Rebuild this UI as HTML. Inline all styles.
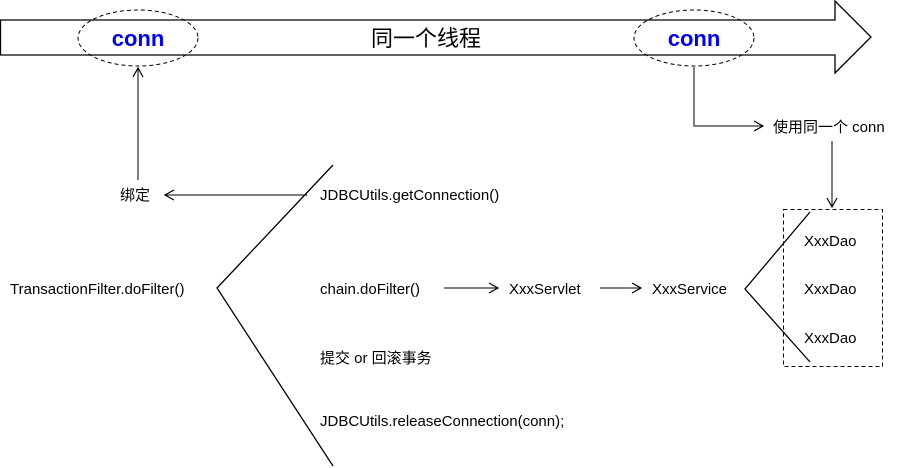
<!DOCTYPE html>
<html><head><meta charset="utf-8"><style>
html,body{margin:0;padding:0;background:#fff;}
svg{display:block}
text{font-family:"Liberation Sans","Noto Sans CJK SC",sans-serif;font-size:15px;fill:#000}
</style></head><body>
<svg width="904" height="468" viewBox="0 0 904 468" xmlns="http://www.w3.org/2000/svg">
<defs>
<marker id="a" markerWidth="12" markerHeight="12" refX="10" refY="6" orient="auto" markerUnits="userSpaceOnUse">
<path d="M1,1 L10,6 L1,11" fill="none" stroke="#000" stroke-width="1.2"/>
</marker>
</defs>
<!-- big arrow -->
<path d="M0.5,20 L835,20 L835,1 L871,37 L835,73 L835,55 L0.5,55 Z" fill="#fff" stroke="#000" stroke-width="1.3"/>
<ellipse cx="138" cy="38" rx="60" ry="28" fill="none" stroke="#000" stroke-dasharray="4,3"/>
<ellipse cx="694" cy="38" rx="60" ry="28" fill="none" stroke="#000" stroke-dasharray="4,3"/>
<text x="138" y="46" text-anchor="middle" style="font-size:22px;font-weight:bold;fill:#0000ff">conn</text>
<text x="694" y="46" text-anchor="middle" style="font-size:22px;font-weight:bold;fill:#0000ff">conn</text>
<text x="426" y="46" text-anchor="middle" style="font-size:22px">同一个线程</text>
<!-- left up arrow -->
<line x1="138" y1="180" x2="138" y2="68" stroke="#000" marker-end="url(#a)"/>
<text x="120" y="200">绑定</text>
<line x1="307" y1="195" x2="165" y2="195" stroke="#000" marker-end="url(#a)"/>
<!-- big bracket -->
<polyline points="333,165 217,288 333,466" fill="none" stroke="#000" stroke-width="1.3"/>
<text x="320" y="200">JDBCUtils.getConnection()</text>
<text x="10" y="294">TransactionFilter.doFilter()</text>
<text x="320" y="294">chain.doFilter()</text>
<line x1="444" y1="288" x2="498" y2="288" stroke="#000" marker-end="url(#a)"/>
<text x="509" y="294">XxxServlet</text>
<line x1="600" y1="288" x2="641" y2="288" stroke="#000" marker-end="url(#a)"/>
<text x="652" y="294">XxxService</text>
<text x="320" y="363">提交 or 回滚事务</text>
<text x="320" y="426">JDBCUtils.releaseConnection(conn);</text>
<!-- right connector -->
<polyline points="694,67 694,126 763,126" fill="none" stroke="#000" marker-end="url(#a)"/>
<text x="773" y="132">使用同一个 conn</text>
<line x1="832" y1="141" x2="832" y2="207" stroke="#000" marker-end="url(#a)"/>
<rect x="783.5" y="209.5" width="99" height="157" fill="none" stroke="#000" stroke-dasharray="4,3"/>
<polyline points="810,212 745,289 810,362" fill="none" stroke="#000" stroke-width="1.3"/>
<text x="804" y="246">XxxDao</text>
<text x="804" y="294">XxxDao</text>
<text x="804" y="343">XxxDao</text>
</svg>
</body></html>
